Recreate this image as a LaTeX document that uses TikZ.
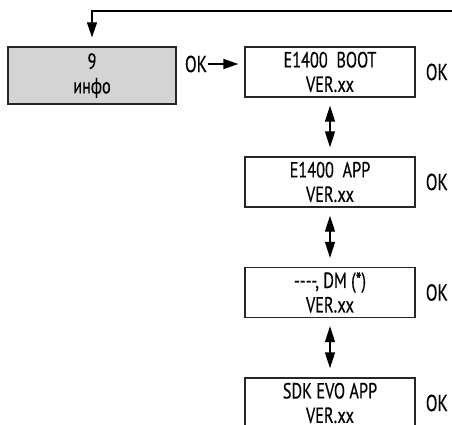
\documentclass[tikz,border=0pt]{standalone}
\usepackage{fontspec}
\setmainfont[FakeStretch=0.74,FakeBold=0.4]{PT Sans}
\usetikzlibrary{arrows.meta,positioning}

\tikzset{
  menubox/.style={draw=black!85, line width=1.3pt, minimum width=170pt, minimum height=50pt,
    align=center, inner sep=0pt, font=\fontsize{22}{24.5}\selectfont},
  infobox/.style={menubox, fill=black!17, minimum width=168pt, minimum height=57pt},
  oklabel/.style={inner sep=0pt, font=\fontsize{23}{24}\selectfont},
  arr/.style={-{Triangle[length=15pt,width=10pt]}, line width=1.3pt},
  dblarr/.style={{Triangle[length=16pt,width=10pt]}-{Triangle[length=16pt,width=10pt]},
    line width=1.3pt, shorten <=8pt, shorten >=9pt}
}

\begin{document}
\begin{tikzpicture}[x=1pt,y=-1pt]
  \clip (0,0) rectangle (452,425);

  % menu boxes
  \node[infobox] (info) at (92,75.5) {9\\инфо};
  \node[menubox] (boot) at (330,72) {E1400\ \ BOOT\\VER.xx};
  \node[menubox] (app) at (330,182) {E1400\ \ APP\\VER.xx};
  \node[menubox] (dm) at (330,292.5) {-\kern0pt-\kern0pt-\kern0pt-, DM (*)\\VER.xx};
  \node[menubox] (sdk) at (330,403) {SDK EVO APP\\VER.xx};

  % OK keys
  \foreach \b in {boot,app,dm,sdk} \node[oklabel, right=10pt of \b] (ok\b) {OK};
  \node[oklabel] (okin) at (196,64) {OK};

  % connectors
  \coordinate (top) at (452,11);
  \draw[arr, shorten >=9pt] (top) -- (top -| info) -- (info.north);
  \draw[arr, shorten <=1pt, shorten >=6pt] (okin.east) -- (okin.east -| boot.west);
  \foreach \a/\b in {boot/app,app/dm,dm/sdk} \draw[dblarr] (\a.south) -- (\b.north);
\end{tikzpicture}
\end{document}
